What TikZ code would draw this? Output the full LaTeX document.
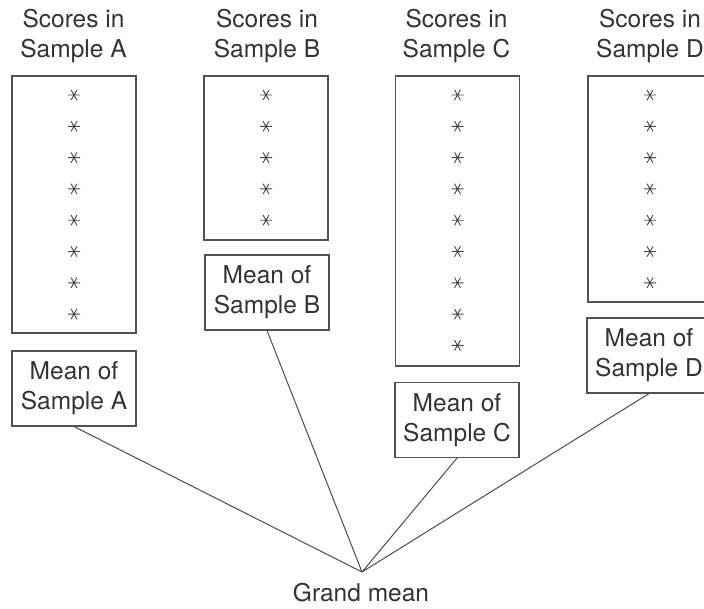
\documentclass[tikz,border=0pt]{standalone}
\usepackage{fontspec}
\setmainfont{TeX Gyre Heros}

\tikzset{
  lbl/.style={align=center,text=black!80,inner sep=0pt,font=\fontsize{24.5}{30}\selectfont},
  scorebox/.style={draw=black!68,line width=1.1pt,minimum width=124pt,inner sep=0pt},
  meanbox/.style={scorebox,lbl,minimum height=75pt},
  score/.pic={\draw[black!72,line width=.9pt] (-6,0)--(6,0) (-3,-5.2)--(3,5.2) (-3,5.2)--(3,-5.2);}
}

\begin{document}
\begin{tikzpicture}[x=1pt,y=-1pt]
\path[use as bounding box] (0,0) rectangle (704,608);

% headings
\node[lbl] (headA) at (73.5,36) {Scores in\\Sample A};
\node[lbl] (headB) at (267,36) {Scores in\\Sample B};
\node[lbl] (headC) at (456.5,36) {Scores in\\Sample C};
\node[lbl] (headD) at (650,36) {Scores in\\Sample D};

% score boxes
\node[scorebox,minimum height=257pt] (boxA) at (74,204.5) {};
\node[scorebox,minimum height=164pt] (boxB) at (266,158) {};
\node[scorebox,minimum height=290pt] (boxC) at (457.5,221) {};
\node[scorebox,minimum height=226pt] (boxD) at (650,189) {};
\foreach \k in {0,...,7} \pic at (74,95+31.3*\k) {score};
\foreach \k in {0,...,4} \pic at (266,95+31.3*\k) {score};
\foreach \k in {0,...,8} \pic at (457.5,95+31.3*\k) {score};
\foreach \k in {0,...,6} \pic at (650,95+31.3*\k) {score};

% means
\node[meanbox] (meanA) at (74,388.5) {Mean of\\Sample A};
\node[meanbox] (meanB) at (267,292.5) {Mean of\\Sample B};
\node[meanbox] (meanC) at (457,420) {Mean of\\Sample C};
\node[meanbox] (meanD) at (649,355.5) {Mean of\\Sample D};

\coordinate (gm) at (362,572);
\node[lbl] (grand) at (361,593) {Grand mean};
\draw[black!70,line width=1pt] (meanA.south)--(gm) (meanB.south)--(gm) (meanC.south)--(gm) (meanD.south)--(gm);
\end{tikzpicture}
\end{document}
